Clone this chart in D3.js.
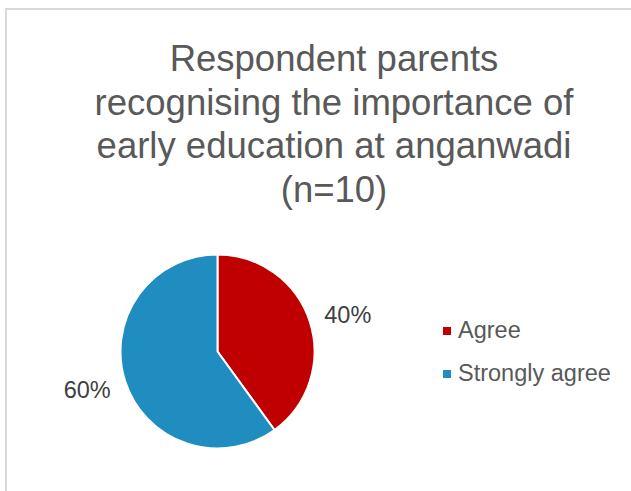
<!DOCTYPE html>
<html>
<head>
<meta charset="utf-8">
<script src="https://cdn.jsdelivr.net/npm/d3@7"></script>
<style>
html,body{margin:0;padding:0;background:#fff;}
svg{display:block;}
</style>
</head>
<body>
<svg id="chart" width="631" height="491"></svg>
<script>
const categories = ["Agree", "Strongly agree"];
const values = [40, 60];
const colors = ["#C00000", "#1F8DC0"];
const titleLines = ["Respondent parents", "recognising the importance of", "early education at anganwadi", "(n=10)"];

const svg = d3.select("#chart");
const font = "'Liberation Sans', Arial, sans-serif";

// chart area border (top and left visible)
svg.append("path")
  .attr("d", "M6,491 L6,9 L631,9")
  .attr("fill", "none")
  .attr("stroke", "#d9d9d9")
  .attr("stroke-width", 2);

// title
const title = svg.append("text")
  .attr("text-anchor", "middle")
  .attr("font-family", font)
  .attr("font-size", 36.5)
  .attr("fill", "#595959");
titleLines.forEach((t, i) => {
  title.append("tspan").attr("x", 334).attr("y", 71 + i * 43.5).text(t);
});

// pie
const cx = 217.5, cy = 351.5, r = 97;
const g = svg.append("g").attr("transform", `translate(${cx},${cy})`);
const pie = d3.pie().sort(null).value(d => d)(values);
const arc = d3.arc().innerRadius(0).outerRadius(r);
const labelArc = d3.arc().innerRadius(137).outerRadius(137);

g.selectAll("path.slice").data(pie).enter().append("path")
  .attr("class", "slice")
  .attr("d", arc)
  .attr("fill", (d, i) => colors[i])
  .attr("stroke", "#fff")
  .attr("stroke-width", 2)
  .attr("stroke-linejoin", "round");

const total = d3.sum(values);
g.selectAll("text.lbl").data(pie).enter().append("text")
  .attr("class", "lbl")
  .attr("transform", d => {
    const [x, y] = labelArc.centroid(d);
    return `translate(${x},${y * 0.88 + 1})`;
  })
  .attr("text-anchor", "middle")
  .attr("dy", "0.35em")
  .attr("font-family", font)
  .attr("font-size", 23.5)
  .attr("fill", "#404040")
  .text(d => Math.round(d.value / total * 100) + "%");

// legend
const legend = svg.append("g").attr("transform", "translate(443,0)");
const rows = legend.selectAll("g").data(categories).enter().append("g")
  .attr("transform", (d, i) => `translate(0,${338 + i * 43})`);
rows.append("rect")
  .attr("x", 0).attr("y", -11)
  .attr("width", 8).attr("height", 8)
  .attr("fill", (d, i) => colors[i]);
rows.append("text")
  .attr("x", 15).attr("y", 0)
  .attr("font-family", font)
  .attr("font-size", 23.5)
  .attr("fill", "#595959")
  .text(d => d);
</script>
</body>
</html>
